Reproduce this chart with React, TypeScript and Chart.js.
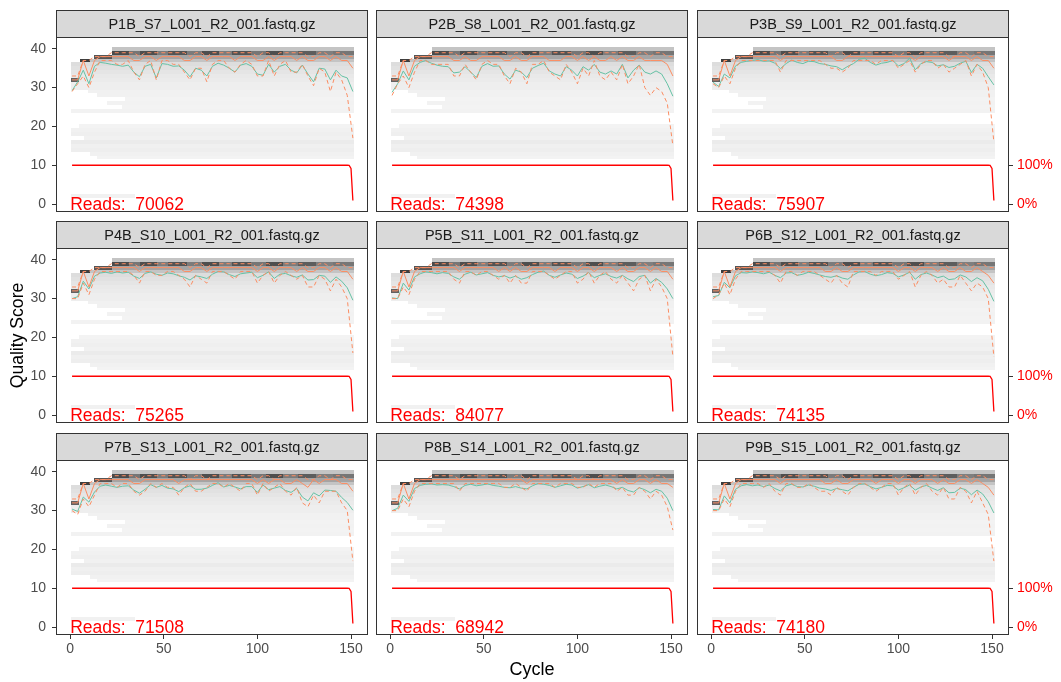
import React, { useEffect, useRef } from "react";
import { Chart, registerables } from "chart.js";
Chart.register(...registerables);

const FONT = "'Liberation Sans', Arial, sans-serif";
Chart.defaults.font.family = FONT;

// ---------------- DATA ----------------
const SAMPLES = [
  "P1B_S7_L001_R2_001.fastq.gz",
  "P2B_S8_L001_R2_001.fastq.gz",
  "P3B_S9_L001_R2_001.fastq.gz",
  "P4B_S10_L001_R2_001.fastq.gz",
  "P5B_S11_L001_R2_001.fastq.gz",
  "P6B_S12_L001_R2_001.fastq.gz",
  "P7B_S13_L001_R2_001.fastq.gz",
  "P8B_S14_L001_R2_001.fastq.gz",
  "P9B_S15_L001_R2_001.fastq.gz",
];
const READ_COUNTS = [70062, 74398, 75907, 75265, 84077, 74135, 71508, 68942, 74180];

const CYCLES = [1, 4, 7, 10, 13, 16, 19, 22, 25, 28, 31, 34, 37, 40, 43, 46, 49, 52, 55, 58, 61, 64, 67, 70, 73, 76, 79, 82, 85, 88, 91, 94, 97, 100, 103, 106, 109, 112, 115, 118, 121, 124, 127, 130, 133, 136, 139, 142, 145, 148, 151];

const MEAN_1 = [29.2, 31.5, 34.5, 31.0, 35.5, 36.5, 36.3, 36.0, 35.8, 35.5, 35.8, 34.0, 32.8, 35.5, 36.0, 32.5, 36.2, 36.0, 35.5, 35.6, 34.5, 32.8, 35.0, 34.5, 33.0, 35.5, 36.3, 35.8, 35.0, 34.0, 35.8, 36.2, 35.5, 33.5, 33.2, 36.0, 34.0, 35.5, 36.0, 34.5, 33.8, 35.8, 33.5, 31.5, 35.0, 34.8, 32.0, 34.5, 33.0, 32.5, 29.0];
const MEAN_2 = [28.8, 31.0, 34.3, 32.0, 35.5, 36.5, 37.0, 36.3, 35.8, 35.5, 35.4, 33.8, 34.0, 35.4, 34.0, 32.6, 35.5, 36.2, 35.5, 35.6, 33.5, 32.2, 34.5, 34.0, 32.6, 35.0, 35.7, 36.3, 34.3, 33.5, 33.0, 35.4, 34.5, 33.0, 35.4, 34.5, 36.0, 34.0, 33.5, 34.3, 33.5, 36.0, 32.5, 34.5, 35.8, 34.0, 33.5, 34.3, 33.5, 31.0, 27.8];
const MEAN_3 = [31.4, 30.3, 33.5, 32.5, 35.6, 36.5, 36.8, 37.0, 37.2, 36.8, 36.9, 36.3, 34.9, 36.2, 37.1, 36.5, 36.2, 36.8, 36.7, 36.2, 36.0, 35.6, 35.4, 34.6, 35.5, 36.2, 37.3, 37.6, 36.5, 35.8, 36.3, 36.5, 37.0, 35.6, 36.2, 37.6, 34.6, 36.2, 36.7, 36.5, 35.6, 35.9, 35.2, 35.5, 36.3, 36.8, 33.9, 36.0, 35.0, 32.8, 30.7];
const MEAN_4 = [30.0, 30.5, 34.5, 32.5, 35.8, 36.6, 36.8, 36.5, 36.9, 36.6, 36.8, 35.8, 35.2, 36.5, 36.9, 36.3, 36.0, 36.6, 36.4, 35.9, 35.5, 34.8, 35.9, 35.6, 35.2, 36.3, 37.0, 36.9, 36.2, 35.7, 36.4, 36.6, 36.8, 35.4, 36.0, 36.9, 35.2, 36.3, 36.5, 35.9, 35.5, 36.1, 34.8, 34.9, 36.0, 35.8, 34.2, 35.6, 34.5, 32.8, 29.6];
const MEAN_5 = [30.2, 30.0, 34.0, 32.2, 35.6, 36.4, 36.9, 36.7, 36.4, 36.7, 36.5, 35.6, 35.0, 36.3, 36.8, 36.1, 36.4, 36.7, 36.0, 35.6, 35.9, 35.3, 35.8, 35.0, 35.4, 36.2, 36.8, 37.1, 36.0, 35.5, 36.1, 36.6, 36.3, 35.2, 35.8, 36.7, 35.4, 36.0, 36.4, 35.7, 35.3, 36.0, 35.1, 34.4, 35.7, 36.0, 34.0, 35.2, 34.2, 32.5, 30.0];
const MEAN_6 = [30.5, 30.8, 34.2, 32.8, 35.9, 36.7, 36.6, 36.9, 36.7, 36.4, 36.8, 36.0, 35.4, 36.6, 36.7, 36.0, 36.3, 36.8, 36.5, 36.1, 35.7, 35.5, 35.9, 35.3, 35.0, 36.1, 36.9, 37.0, 36.3, 35.9, 36.2, 36.7, 36.5, 35.6, 36.1, 36.8, 35.0, 36.2, 36.6, 36.1, 35.4, 35.8, 34.9, 35.1, 36.1, 35.6, 34.4, 35.4, 34.6, 32.4, 29.3];
const MEAN_7 = [30.4, 29.8, 33.5, 32.2, 34.8, 36.3, 36.6, 36.3, 36.0, 36.3, 36.4, 35.3, 34.5, 35.5, 36.7, 36.0, 36.5, 35.8, 35.6, 34.9, 35.9, 36.4, 35.5, 35.5, 35.8, 36.5, 37.2, 36.1, 36.5, 36.1, 35.6, 36.2, 36.2, 34.7, 36.6, 35.4, 35.8, 36.2, 35.2, 34.7, 35.7, 33.5, 32.5, 34.6, 33.8, 35.3, 35.2, 35.0, 33.4, 32.1, 30.1];
const MEAN_8 = [30.0, 30.6, 34.0, 32.4, 35.7, 36.5, 36.8, 36.9, 36.6, 36.7, 36.6, 36.2, 35.6, 36.5, 36.8, 36.4, 36.6, 36.9, 36.5, 36.3, 36.0, 35.9, 36.2, 35.8, 35.6, 36.4, 37.0, 36.8, 36.5, 36.0, 36.4, 36.8, 36.6, 35.8, 36.2, 36.7, 35.9, 36.3, 36.6, 36.2, 35.6, 36.0, 35.2, 34.8, 35.9, 35.4, 34.6, 35.5, 35.0, 33.2, 30.0];
const MEAN_9 = [30.3, 30.2, 33.8, 32.0, 35.5, 36.4, 36.7, 36.4, 36.6, 36.2, 36.6, 35.7, 35.1, 36.4, 36.8, 36.2, 36.1, 36.6, 36.3, 35.8, 35.6, 35.2, 35.7, 35.4, 35.1, 36.0, 36.8, 36.9, 36.2, 35.6, 36.0, 36.5, 36.4, 35.3, 35.9, 36.6, 35.3, 36.1, 36.5, 35.8, 35.2, 35.9, 34.6, 34.7, 35.8, 35.4, 34.1, 35.3, 34.3, 32.3, 29.4];

const MEDIAN_1 = [32, 32, 37, 33, 37, 38, 38, 38, 38, 38, 38, 37, 37, 38, 38, 37, 38, 38, 38, 38, 37, 37, 38, 38, 37, 38, 38, 38, 38, 37, 38, 38, 38, 37, 37, 38, 37, 38, 38, 38, 37, 38, 37, 37, 38, 38, 37, 38, 37, 37, 35];
const MEDIAN_2 = [32, 32, 37, 33, 37, 38, 38, 38, 38, 38, 38, 37, 37, 38, 37, 37, 38, 38, 38, 38, 37, 37, 38, 37, 37, 38, 38, 38, 37, 37, 37, 38, 38, 37, 38, 37, 38, 37, 37, 38, 37, 38, 37, 37, 38, 37, 37, 37, 37, 36, 33];
const MEDIAN_3 = [32, 32, 37, 33, 37, 38, 38, 38, 38, 38, 38, 38, 37, 38, 38, 38, 38, 38, 38, 38, 38, 38, 37, 37, 38, 38, 38, 38, 38, 38, 38, 38, 38, 38, 38, 38, 37, 38, 38, 38, 38, 38, 37, 38, 38, 38, 37, 38, 37, 37, 35];
const MEDIAN_4 = [32, 32, 37, 33, 37, 38, 38, 38, 38, 38, 38, 38, 37, 38, 38, 38, 38, 38, 38, 38, 37, 37, 38, 38, 37, 38, 38, 38, 38, 38, 38, 38, 38, 37, 38, 38, 37, 38, 38, 38, 37, 38, 37, 37, 38, 38, 37, 38, 37, 37, 35];
const MEDIAN_5 = [32, 32, 37, 33, 37, 38, 38, 38, 38, 38, 38, 38, 37, 38, 38, 38, 38, 38, 38, 37, 38, 37, 38, 37, 37, 38, 38, 38, 38, 37, 38, 38, 38, 37, 38, 38, 37, 38, 38, 38, 37, 38, 37, 37, 38, 38, 37, 38, 37, 37, 35];
const MEDIAN_6 = [32, 32, 37, 33, 37, 38, 38, 38, 38, 38, 38, 38, 37, 38, 38, 38, 38, 38, 38, 38, 37, 37, 38, 37, 37, 38, 38, 38, 38, 38, 38, 38, 38, 37, 38, 38, 37, 38, 38, 38, 37, 38, 37, 37, 38, 37, 37, 38, 37, 36, 34];
const MEDIAN_7 = [32, 32, 37, 33, 37, 38, 38, 38, 38, 38, 38, 37, 37, 38, 38, 38, 38, 38, 38, 37, 38, 38, 38, 38, 38, 38, 38, 38, 38, 38, 38, 38, 38, 37, 38, 37, 38, 38, 37, 37, 38, 37, 36, 38, 37, 38, 38, 38, 37, 37, 35];
const MEDIAN_8 = [32, 32, 37, 33, 37, 38, 38, 38, 38, 38, 38, 38, 38, 38, 38, 38, 38, 38, 38, 38, 38, 38, 38, 38, 37, 38, 38, 38, 38, 38, 38, 38, 38, 38, 38, 38, 38, 38, 38, 38, 37, 38, 37, 37, 38, 38, 37, 38, 37, 37, 36];
const MEDIAN_9 = [32, 32, 37, 33, 37, 38, 38, 38, 38, 38, 38, 38, 37, 38, 38, 38, 38, 38, 38, 38, 37, 37, 38, 37, 37, 38, 38, 38, 38, 37, 38, 38, 38, 37, 38, 38, 37, 38, 38, 38, 37, 38, 37, 37, 38, 38, 37, 38, 37, 36, 34];

const Q25_1 = [29, 31, 33, 30, 34, 37, 37, 37, 36, 36, 37, 34, 32, 36, 37, 32, 37, 37, 36, 36, 34, 32, 35, 35, 31.5, 36, 37, 37, 35, 34, 36, 37, 36, 33, 33, 37, 33, 36, 37, 34, 34, 36, 33, 30.5, 35, 34, 29, 34, 32, 28, 17];
const Q25_2 = [28, 31, 33, 30, 34, 37, 37, 36, 36, 36, 36, 33, 33, 36, 34, 32, 36, 37, 36, 36, 33, 31, 35, 34, 31, 36, 36, 37, 34, 33, 32, 36, 34, 31, 35, 33, 37, 33, 32, 34, 32, 36, 31, 33, 36, 30, 28, 30, 29, 26, 15];
const Q25_3 = [31, 30, 33, 31, 35, 37, 37, 37, 37, 37, 37, 37, 34, 37, 37, 37, 37, 37, 37, 37, 36, 35, 35, 34, 35, 37, 37, 37, 37, 36, 37, 37, 37, 35, 36, 37, 34, 36, 37, 37, 35, 36, 34, 35, 36, 37, 33, 36, 34, 30, 16];
const Q25_4 = [30, 30, 34, 31, 35, 37, 37, 37, 37, 37, 37, 36, 34, 37, 37, 36, 36, 37, 37, 36, 35, 33, 36, 35, 34, 37, 37, 37, 36, 35, 37, 37, 37, 34, 36, 37, 34, 36, 37, 36, 35, 36, 33, 33, 36, 35, 32, 35, 33, 30, 16];
const Q25_5 = [30, 30, 33, 31, 35, 37, 37, 37, 37, 37, 37, 35, 34, 37, 37, 36, 37, 37, 36, 35, 36, 34, 36, 34, 34, 37, 37, 37, 36, 35, 36, 37, 37, 34, 35, 37, 34, 36, 37, 35, 34, 36, 34, 32, 35, 36, 32, 35, 33, 30, 15];
const Q25_6 = [30, 31, 34, 31, 35, 37, 37, 37, 37, 37, 37, 36, 34, 37, 37, 36, 37, 37, 37, 36, 35, 34, 36, 34, 33, 37, 37, 37, 37, 36, 37, 37, 37, 35, 36, 37, 33, 36, 37, 36, 34, 35, 33, 33, 36, 34, 32, 34, 33, 30, 15];
const Q25_7 = [30, 29, 33, 31, 34, 37, 37, 37, 36, 37, 37, 35, 34, 35, 37, 36, 37, 36, 36, 34, 36, 37, 35, 35, 36, 37, 37, 36, 37, 36, 35, 37, 37, 34, 37, 35, 36, 37, 35, 34, 36, 32, 31, 34, 32, 35, 35, 35, 32, 30, 17];
const Q25_8 = [30, 30, 33, 31, 35, 37, 37, 37, 37, 37, 37, 37, 35, 37, 37, 37, 37, 37, 37, 37, 36, 36, 37, 36, 35, 37, 37, 37, 37, 36, 37, 37, 37, 36, 36, 37, 36, 37, 37, 37, 35, 36, 34, 34, 36, 35, 33, 35, 34, 31, 25];
const Q25_9 = [30, 30, 33, 31, 35, 37, 37, 37, 37, 36, 37, 35, 34, 37, 37, 36, 36, 37, 36, 35, 35, 34, 36, 35, 34, 36, 37, 37, 36, 35, 36, 37, 37, 34, 36, 37, 34, 36, 37, 35, 34, 36, 33, 33, 36, 35, 32, 35, 32, 29, 17];

const Q75_ALL = [33, 33, 37, 37, 38, 38, 38, 39, 39, 39, 39, 39, 38, 39, 39, 39, 39, 39, 39, 39, 39, 38, 39, 39, 38, 39, 39, 39, 39, 39, 39, 39, 39, 38, 39, 39, 38, 39, 39, 39, 39, 39, 38, 38, 39, 39, 38, 39, 39, 38, 38];

// reads remaining (scaled to 10 = 100%)
const READ_CYCLES = [1, 148, 149, 150, 151];
const READ_SCALED = [10, 10, 9.95, 9.2, 0.9];

// heatmap tiles: [quality score, first cycle, last cycle, relative density]
const HEAT: number[][] = [
  [40, 23, 151, 0.2],
  [39, 23, 31, 0.7], [39, 32, 37, 0.52], [39, 38, 46, 0.68], [39, 47, 52, 0.5], [39, 53, 62, 0.66],
  [39, 63, 70, 0.5], [39, 71, 79, 0.68], [39, 80, 86, 0.5], [39, 87, 96, 0.66], [39, 97, 104, 0.52],
  [39, 105, 113, 0.68], [39, 114, 121, 0.5], [39, 122, 131, 0.62], [39, 132, 140, 0.48], [39, 141, 151, 0.52],
  [38, 13, 22, 0.65], [38, 23, 151, 0.33],
  [37, 6, 10, 0.75], [37, 11, 151, 0.2],
  [36, 1, 151, 0.1], [35, 1, 151, 0.08], [34, 1, 151, 0.065], [33, 1, 151, 0.05],
  [32, 1, 4, 0.6], [32, 5, 151, 0.04],
  [31, 1, 151, 0.03], [30, 1, 151, 0.03],
  [29, 10, 151, 0.015], [28, 15, 151, 0.015], [27, 30, 151, 0.01], [26, 20, 151, 0.012], [25, 28, 151, 0.01], [24, 1, 151, 0.012],
  [20, 5, 151, 0.01], [19, 1, 151, 0.015], [18, 1, 151, 0.025], [17, 8, 151, 0.018], [16, 1, 151, 0.04],
  [15, 1, 151, 0.02], [14, 1, 151, 0.03], [13, 11, 151, 0.015], [12, 15, 151, 0.01],
  [2, 1, 34, 0.015],
];

const X_TICKS = [0, 50, 100, 150];
const Y_TICKS = [0, 10, 20, 30, 40];
const PCT_TICKS = [0, 10];
const PCT_LABELS = ["0%", "100%"];

const MEANS = [MEAN_1, MEAN_2, MEAN_3, MEAN_4, MEAN_5, MEAN_6, MEAN_7, MEAN_8, MEAN_9];
const MEDIANS = [MEDIAN_1, MEDIAN_2, MEDIAN_3, MEDIAN_4, MEDIAN_5, MEDIAN_6, MEDIAN_7, MEDIAN_8, MEDIAN_9];
const Q25S = [Q25_1, Q25_2, Q25_3, Q25_4, Q25_5, Q25_6, Q25_7, Q25_8, Q25_9];

// ---------------- LAYOUT ----------------
const COL_LEFT = [56, 376, 697];
const ROW_TOP = [10, 221, 433];
const PANEL_W = 312;
const PANEL_H = 175;
const STRIP_H = 27;
const AX_L = 56;
const AX_R = 52;
const AX_B = 46;
const X_MIN = -7.575, X_MAX = 159.075;
const Y_MIN = -2.05, Y_MAX = 43.05;

const GREEN = "#66C2A5";
const ORANGE = "#FC8D62";
const TICK_COLOR = "#4D4D4D";
const FRAME = "#333333";

function panelPlugin(i: number) {
  return {
    id: "panel" + i,
    beforeDatasetsDraw(chart: any) {
      const { ctx, chartArea: a, scales } = chart;
      const x = scales.x, y = scales.y;
      ctx.save();
      ctx.beginPath();
      ctx.rect(a.left, a.top, a.right - a.left, a.bottom - a.top);
      ctx.clip();
      for (const [q, c0, c1, d] of HEAT) {
        const g = Math.round(245 * (1 - d));
        ctx.fillStyle = `rgb(${g},${g},${g})`;
        const x0 = Math.round(x.getPixelForValue(c0 - 0.5));
        const x1 = Math.round(x.getPixelForValue(c1 + 0.5));
        const y0 = Math.round(y.getPixelForValue(q + 0.5));
        const y1 = Math.round(y.getPixelForValue(q - 0.5));
        ctx.fillRect(x0, y0, x1 - x0, y1 - y0);
      }
      ctx.restore();
    },
    afterDatasetsDraw(chart: any) {
      const { ctx, chartArea: a, scales } = chart;
      ctx.save();
      ctx.beginPath();
      ctx.rect(a.left, a.top, a.right - a.left, a.bottom - a.top);
      ctx.clip();
      const fs = 17.5;
      ctx.font = `${fs}px ${FONT}`;
      ctx.fillStyle = "#FF0000";
      ctx.textAlign = "left";
      ctx.textBaseline = "alphabetic";
      ctx.fillText("Reads:  " + READ_COUNTS[i], scales.x.getPixelForValue(0), scales.y.getPixelForValue(0) + 0.358 * fs);
      ctx.restore();
    },
    afterDraw(chart: any) {
      const { ctx, chartArea: a } = chart;
      ctx.save();
      ctx.strokeStyle = FRAME;
      ctx.lineWidth = 1;
      ctx.strokeRect(a.left + 0.5, a.top + 0.5, a.right - a.left - 1, a.bottom - a.top - 1);
      ctx.fillStyle = "#D9D9D9";
      ctx.fillRect(a.left, 0, a.right - a.left, STRIP_H);
      ctx.strokeRect(a.left + 0.5, 0.5, a.right - a.left - 1, STRIP_H);
      const fs = 14.5;
      ctx.font = `${fs}px ${FONT}`;
      ctx.fillStyle = "#1A1A1A";
      ctx.textAlign = "center";
      ctx.textBaseline = "alphabetic";
      ctx.fillText(SAMPLES[i], (a.left + a.right) / 2, STRIP_H / 2 + 0.358 * fs + 0.5);
      ctx.restore();
    },
  };
}

function Panel({ i }: { i: number }) {
  const ref = useRef<HTMLCanvasElement>(null);
  const r = Math.floor(i / 3);
  const c = i % 3;
  const W = AX_L + PANEL_W + AX_R;
  const H = STRIP_H + PANEL_H + AX_B;
  useEffect(() => {
    const pts = (xs: number[], ys: number[]) => xs.map((x, k) => ({ x, y: ys[k] }));
    const tickFont = { size: 14, family: FONT };
    const chart = new Chart(ref.current as HTMLCanvasElement, {
      type: "line",
      data: {
        datasets: [
          { data: pts(READ_CYCLES, READ_SCALED), borderColor: "#FF0000", borderWidth: 1.3 },
          { data: pts(CYCLES, Q75_ALL), borderColor: ORANGE, borderWidth: 1, borderDash: [4, 3] },
          { data: pts(CYCLES, Q25S[i]), borderColor: ORANGE, borderWidth: 1, borderDash: [4, 3] },
          { data: pts(CYCLES, MEDIANS[i]), borderColor: ORANGE, borderWidth: 1 },
          { data: pts(CYCLES, MEANS[i]), borderColor: GREEN, borderWidth: 1 },
        ],
      } as any,
      options: {
        responsive: false,
        animation: false,
        events: [],
        layout: { padding: { top: STRIP_H, left: 0, right: 0, bottom: 0 } },
        elements: { point: { radius: 0 }, line: { tension: 0, fill: false } },
        plugins: { legend: { display: false }, tooltip: { enabled: false }, title: { display: false } },
        scales: {
          x: {
            type: "linear",
            position: "bottom",
            min: X_MIN,
            max: X_MAX,
            afterBuildTicks: (s: any) => { s.ticks = X_TICKS.map((v) => ({ value: v })); },
            afterFit: (s: any) => { s.height = AX_B; },
            grid: { display: r === 2, drawOnChartArea: false, drawTicks: true, tickLength: 4, color: FRAME },
            border: { display: false },
            ticks: { display: r === 2, color: TICK_COLOR, font: tickFont, padding: 2, maxRotation: 0, autoSkip: false },
            title: { display: i === 7, text: "Cycle", color: "#000000", font: { size: 18, family: FONT }, padding: { top: 0, bottom: 0 } },
          },
          y: {
            type: "linear",
            position: "left",
            min: Y_MIN,
            max: Y_MAX,
            afterBuildTicks: (s: any) => { s.ticks = Y_TICKS.map((v) => ({ value: v })); },
            afterFit: (s: any) => { s.width = AX_L; },
            grid: { display: c === 0, drawOnChartArea: false, drawTicks: true, tickLength: 4, color: FRAME },
            border: { display: false },
            ticks: { display: c === 0, color: TICK_COLOR, font: tickFont, padding: 6, autoSkip: false },
            title: { display: i === 3, text: "Quality Score", color: "#000000", font: { size: 17.6, family: FONT }, padding: { top: 8, bottom: 0 } },
          },
          y2: {
            type: "linear",
            position: "right",
            min: Y_MIN,
            max: Y_MAX,
            afterBuildTicks: (s: any) => { s.ticks = PCT_TICKS.map((v) => ({ value: v })); },
            afterFit: (s: any) => { s.width = AX_R; },
            grid: { display: c === 2, drawOnChartArea: false, drawTicks: true, tickLength: 4, color: FRAME },
            border: { display: false },
            ticks: {
              display: c === 2,
              color: "#FF0000",
              font: tickFont,
              padding: 4,
              autoSkip: false,
              callback: (v: any) => PCT_LABELS[PCT_TICKS.indexOf(Number(v))] ?? "",
            },
          },
        },
      } as any,
      plugins: [panelPlugin(i)],
    });
    return () => chart.destroy();
  }, []);
  return (
    <canvas
      ref={ref}
      width={W}
      height={H}
      style={{ position: "absolute", left: COL_LEFT[c] - AX_L, top: ROW_TOP[r], width: W, height: H, display: "block" }}
    />
  );
}

export default function App() {
  return (
    <div style={{ position: "absolute", left: 0, top: 0, width: 1061, height: 682, overflow: "hidden", background: "#ffffff" }}>
      {SAMPLES.map((_, i) => (
        <Panel key={i} i={i} />
      ))}
    </div>
  );
}
